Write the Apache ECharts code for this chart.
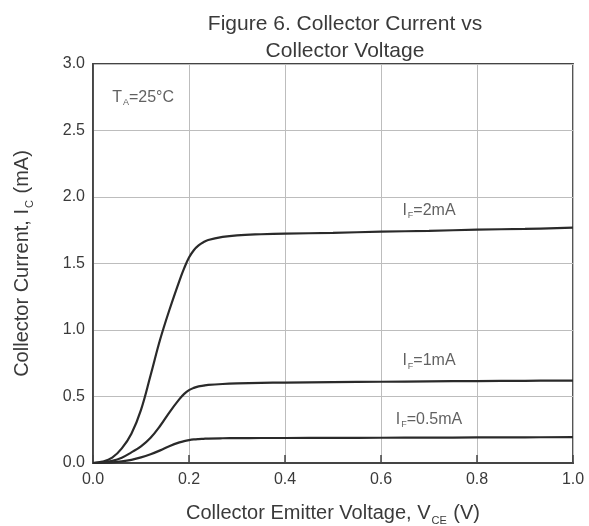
<!DOCTYPE html>
<html>
<head>
<meta charset="utf-8">
<script src="https://cdn.jsdelivr.net/npm/echarts@6/dist/echarts.min.js"></script>
<style>
  html, body { margin: 0; padding: 0; background: #fff; }
  #chart { width: 589px; height: 526px; }
</style>
</head>
<body>
<div id="chart"></div>
<script>
// VCE (V) sample points
var vce = [0, 0.02, 0.04, 0.06, 0.08, 0.1, 0.12, 0.14, 0.16, 0.18, 0.19, 0.2, 0.21, 0.22, 0.23, 0.24, 0.27, 0.3, 0.35, 0.4, 0.5, 0.6, 0.7, 0.8, 0.9, 1.0];
// IC (mA) for each forward current
var ic2mA  = [0, 0.01, 0.04, 0.11, 0.22, 0.4, 0.66, 0.93, 1.16, 1.37, 1.465, 1.545, 1.6, 1.636, 1.66, 1.677, 1.7, 1.712, 1.72, 1.725, 1.73, 1.74, 1.745, 1.755, 1.76, 1.77];
var ic1mA  = [0, 0.005, 0.016, 0.04, 0.08, 0.125, 0.19, 0.28, 0.385, 0.48, 0.52, 0.548, 0.565, 0.576, 0.582, 0.587, 0.594, 0.598, 0.602, 0.605, 0.608, 0.611, 0.614, 0.616, 0.618, 0.62];
var ic05mA = [0, 0.002, 0.005, 0.012, 0.024, 0.042, 0.066, 0.095, 0.128, 0.155, 0.165, 0.172, 0.177, 0.18, 0.182, 0.184, 0.186, 0.187, 0.188, 0.188, 0.189, 0.19, 0.191, 0.192, 0.193, 0.195];

var curveLabels = [
  { name: '2mA', x: 0.70, y: 1.9 },
  { name: '1mA', x: 0.70, y: 0.77 },
  { name: '0.5mA', x: 0.70, y: 0.33 }
];

function pairs(ys) {
  return vce.map(function (v, i) { return [v, ys[i]]; });
}

var txt = '#3a3a3a';
var font = 'Liberation Sans, Arial, sans-serif';
var rich = {
  n: { fontSize: 16, color: txt, fontFamily: font },
  s: { fontSize: 9, color: txt, fontFamily: font, verticalAlign: 'bottom', padding: [11, 0, 0, 1] },
  big: { fontSize: 20, color: txt, fontFamily: font },
  bigs: { fontSize: 11, color: txt, fontFamily: font, verticalAlign: 'bottom', padding: [14, 1, 0, 1] }
};

function line(ys) {
  return {
    type: 'line',
    data: pairs(ys),
    smooth: 0.4,
    showSymbol: false,
    lineStyle: { color: '#2a2a2a', width: 2.2 },
    silent: true
  };
}

var chart = echarts.init(document.getElementById('chart'));
chart.setOption({
  animation: false,
  backgroundColor: '#fff',
  title: {
    text: 'Figure 6. Collector Current vs\nCollector Voltage',
    left: 340,
    textAlign: 'center',
    top: 6,
    textStyle: { fontSize: 21, fontWeight: 'normal', color: txt, fontFamily: font, lineHeight: 27 }
  },
  grid: {
    left: 93, right: 16, top: 64, bottom: 63,
    outerBoundsMode: 'none',
    show: true, borderColor: '#444', borderWidth: 1.8
  },
  xAxis: {
    type: 'value', min: 0, max: 1.0, interval: 0.2,
    axisLine: { lineStyle: { color: '#444', width: 1.8 } },
    axisTick: { show: true, inside: true, length: 8, lineStyle: { color: '#444', width: 1.5 } },
    axisLabel: { color: txt, fontSize: 16, fontFamily: font, margin: 9,
      formatter: function (v) { return v.toFixed(1); } },
    splitLine: { lineStyle: { color: '#bdbdbd', width: 1 } },
    name: '{big|Collector Emitter Voltage, V}{bigs|CE}{big| (V)}',
    nameLocation: 'middle', nameGap: 38,
    nameTextStyle: { rich: rich }
  },
  yAxis: {
    type: 'value', min: 0, max: 3.0, interval: 0.5,
    axisLine: { lineStyle: { color: '#444', width: 1.8 } },
    axisTick: { show: false },
    axisLabel: { color: txt, fontSize: 16, fontFamily: font, margin: 8,
      formatter: function (v) { return v.toFixed(1); } },
    splitLine: { lineStyle: { color: '#bdbdbd', width: 1 } },
    name: '{big|Collector Current, I}{bigs|C}{big| (mA)}',
    nameLocation: 'middle', nameGap: 58,
    nameTextStyle: { rich: rich }
  },
  series: [
    line(ic2mA),
    line(ic1mA),
    line(ic05mA),
    {
      type: 'scatter',
      symbolSize: 0,
      silent: true,
      data: curveLabels.map(function (d) { return { value: [d.x, d.y], name: d.name }; }),
      label: {
        show: true, position: 'inside',
        formatter: function (p) { return '{n|I}{s|F}{n|=' + p.name + '}'; },
        rich: rich
      }
    },
    {
      type: 'scatter',
      symbolSize: 0,
      silent: true,
      data: [[0.04, 2.75]],
      label: {
        show: true, position: 'inside', align: 'left',
        formatter: '{n|T}{s|A}{n|=25°C}',
        rich: rich
      }
    }
  ]
});
</script>
</body>
</html>
